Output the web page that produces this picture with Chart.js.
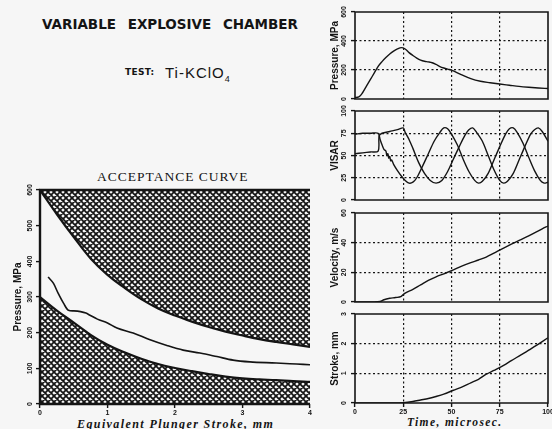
<!DOCTYPE html>
<html>
<head>
<meta charset="utf-8">
<script src="https://cdn.jsdelivr.net/npm/chart.js@4.4.1/dist/chart.umd.min.js"></script>
<style>
  html, body { margin: 0; padding: 0; background: #f6f6f6; }
  #page { position: relative; width: 552px; height: 429px; overflow: hidden; background: #f6f6f6; color: #141414; }
  #page canvas { position: absolute; left: 0; top: 0; }
  .txt { position: absolute; line-height: 1; white-space: pre; }
  #title { left: 42px; top: 15.6px; font: bold 13.5px "DejaVu Sans"; word-spacing: 7px; }
  #testLbl { left: 125px; top: 67.4px; font: bold 9px "DejaVu Sans"; letter-spacing: 0.3px; }
  #testMix { left: 165px; top: 64.3px; font: 15px "Liberation Sans"; letter-spacing: 1px; }
  #testMix sub { font-size: 9px; vertical-align: -4px; }
  #accept { left: 97px; top: 168.7px; font: 13.5px "Liberation Serif"; letter-spacing: 1px; }
  #xTitleL { left: 77px; top: 417px; font: italic bold 12px "Liberation Serif"; letter-spacing: 1.4px; }
  #xTitleR { left: 407px; top: 416.4px; font: italic bold 11.5px "Liberation Serif"; letter-spacing: 1.4px; }
</style>
</head>
<body>
<div id="page">
  <div class="txt" id="title">VARIABLE EXPLOSIVE CHAMBER</div>
  <div class="txt" id="testLbl">TEST:</div>
  <div class="txt" id="testMix">Ti-KClO<sub>4</sub></div>
  <div class="txt" id="accept">ACCEPTANCE CURVE</div>
  <div class="txt" id="xTitleL">Equivalent Plunger Stroke, mm</div>
  <div class="txt" id="xTitleR">Time, microsec.</div>
  <canvas id="accChart" width="552" height="429"></canvas>
  <canvas id="presChart" width="552" height="429"></canvas>
  <canvas id="visarChart" width="552" height="429"></canvas>
  <canvas id="velChart" width="552" height="429"></canvas>
  <canvas id="strokeChart" width="552" height="429"></canvas>
</div>
<script>
// acceptance curve: pressure (MPa) vs equivalent plunger stroke (mm)
const strokeGrid = [0, 0.25, 0.5, 0.75, 1, 1.25, 1.5, 1.75, 2, 2.25, 2.5, 2.75, 3, 3.25, 3.5, 3.75, 4];
const upperLimit = [600, 532, 468, 408, 362, 326, 294, 268, 248, 231, 216, 203, 192, 182, 174, 167, 160];
const lowerLimit = [300, 262, 228, 194, 166, 145, 127, 112, 101, 92, 84, 77, 72, 69, 67, 64, 62];
const testStroke = [0.12, 0.2, 0.27, 0.35, 0.42, 0.5, 0.6, 0.68, 0.74, 0.85, 1.0, 1.14, 1.38, 1.63, 1.88, 2.12, 2.37, 2.62, 2.86, 3.11, 3.5, 3.8, 4.0];
const testPressure = [356, 338, 310, 282, 263, 261, 259, 255, 249, 238, 227, 213, 199, 180, 164, 151, 143, 133, 123, 118, 115, 112, 110];
const accPressureTicks = [0, 100, 200, 300, 400, 500, 600];
const accStrokeTicks = [0, 1, 2, 3, 4];

// time histories, time in microseconds
const timeTicks = [0, 25, 50, 75, 100];

const presTime = [0, 2, 4, 6, 8, 10, 12, 14, 16, 18, 20, 22, 24, 26, 28, 30, 32, 34, 36, 38, 40, 42, 44, 46, 48, 50, 55, 60, 65, 70, 75, 80, 85, 90, 95, 100];
const presMPa = [10, 14, 45, 90, 135, 180, 225, 258, 286, 310, 330, 345, 354, 345, 320, 300, 282, 268, 260, 256, 250, 238, 224, 214, 206, 199, 168, 140, 122, 112, 103, 95, 87, 81, 76, 72];
const presTicks = [0, 200, 400, 600];

const visarTimeA = [0, 4, 8, 12, 13, 14, 15, 16, 16.5, 17, 17.5, 18, 18.5, 19, 20, 22, 24, 26, 28, 30, 32, 35, 38, 41, 44, 46, 48, 50, 53, 56, 59, 62, 64, 66, 69, 72, 75, 78, 80, 82, 84, 87, 90, 93, 96, 98, 100];
const visarA = [74, 75, 75, 75, 68, 62, 57, 55, 50, 52, 47, 49, 44, 45, 40, 33, 27, 22, 19, 20, 25, 38, 52, 66, 76, 81, 80, 74, 62, 46, 32, 22, 19, 21, 30, 45, 60, 74, 80, 81, 76, 64, 48, 33, 22, 19, 20];
const visarTimeB = [0, 4, 8, 12, 12.5, 14, 18, 22, 25, 26, 28, 30, 33, 36, 39, 42, 45, 48, 51, 54, 57, 59, 61, 63, 66, 69, 72, 75, 77, 79, 82, 85, 88, 91, 93, 95, 97, 100];
const visarB = [52, 53, 54, 55, 72, 75, 77, 79, 81, 76, 68, 58, 42, 30, 22, 19, 22, 32, 46, 60, 73, 79, 81, 76, 66, 50, 34, 22, 19, 21, 30, 45, 60, 74, 79, 81, 77, 66];
const visarTicks = [0, 25, 50, 75, 100];

const velTime = [0, 5, 10, 13, 15, 18, 21, 24, 25, 26, 30, 34, 38, 42, 46, 51, 55, 60, 64, 68, 72, 77, 81, 86, 90, 94, 97, 100];
const velocity = [0, 0, 0, 0.3, 1.5, 2.5, 3, 3.8, 5, 6, 8.5, 11.5, 14.5, 17, 19, 21.6, 24, 26.5, 28.3, 30.3, 33, 36.4, 39, 42, 44.5, 47.2, 49.3, 51.2];
const velTicks = [0, 20, 40, 60];

const strokeTime = [0, 10, 20, 25, 30, 34, 38, 42, 46, 51, 55, 60, 64, 68, 72, 77, 81, 86, 90, 94, 97, 100];
const strokeMm = [0, 0, 0, 0.01, 0.05, 0.1, 0.15, 0.22, 0.3, 0.43, 0.53, 0.68, 0.8, 0.97, 1.1, 1.27, 1.43, 1.62, 1.78, 1.94, 2.07, 2.2];
const strokeTicks = [0, 1, 2, 3];

const ink = '#141414';
const paper = '#f6f6f6';
const tickFont = 'bold 7px "Liberation Sans"';
const titleFont = 'bold 10px "Liberation Sans"';

// cross-hatch used for the rejected regions
function makeHatch() {
  const c = document.createElement('canvas');
  c.width = 6; c.height = 6;
  const g = c.getContext('2d');
  g.fillStyle = paper;
  g.fillRect(0, 0, 6, 6);
  g.strokeStyle = ink;
  g.lineWidth = 1.7;
  g.beginPath();
  for (let k = -6; k <= 6; k += 6) {
    g.moveTo(k - 1, -1); g.lineTo(k + 7, 7);
    g.moveTo(k + 7, -1); g.lineTo(k - 1, 7);
  }
  g.stroke();
  return g.createPattern(c, 'repeat');
}

function pts(xs, ys) {
  return xs.map((x, i) => ({ x: x, y: ys[i] }));
}

function line(xs, ys, extra) {
  return Object.assign({
    data: pts(xs, ys),
    borderColor: ink,
    borderWidth: 1.4,
    pointRadius: 0,
    fill: false,
    cubicInterpolationMode: 'monotone'
  }, extra || {});
}

function axis(vals, grid, marks) {
  const lo = vals[0], hi = vals[vals.length - 1];
  return {
    type: 'linear',
    min: lo,
    max: hi,
    afterBuildTicks: s => { s.ticks = vals.map(v => ({ value: v })); },
    afterFit: s => { if (s.isHorizontal()) s.height = 0; else s.width = 0; },
    ticks: { display: false },
    border: { display: false, dash: [2, 2.5] },
    grid: {
      drawOnChartArea: grid,
      drawTicks: marks,
      tickLength: 4,
      tickWidth: 1.4,
      tickColor: ink,
      tickBorderDash: [],
      lineWidth: 1.2,
      color: c => (c.tick && (c.tick.value === lo || c.tick.value === hi)) ? 'rgba(0,0,0,0)' : ink
    }
  };
}

function rotText(ctx, text, x, y) {
  ctx.save();
  ctx.translate(x, y);
  ctx.rotate(-Math.PI / 2);
  ctx.fillText(text, 0, 0);
  ctx.restore();
}

// frame, rotated y labels, x labels and y title
const decor = {
  id: 'decor',
  afterDraw(chart, args, o) {
    const { ctx, chartArea: a } = chart;
    const xs = chart.scales.x, ys = chart.scales.y;
    ctx.save();
    ctx.strokeStyle = ink;
    ctx.fillStyle = ink;
    ctx.lineWidth = o.frame;
    ctx.beginPath();
    if (o.open) {
      ctx.moveTo(a.right, a.top); ctx.lineTo(a.left, a.top);
      ctx.lineTo(a.left, a.bottom); ctx.lineTo(a.right, a.bottom);
    } else {
      ctx.rect(a.left, a.top, a.width, a.height);
    }
    ctx.stroke();
    ctx.font = tickFont;
    ctx.textAlign = 'center';
    ctx.textBaseline = 'middle';
    ys.ticks.forEach(t => rotText(ctx, String(t.value), o.yLabelX, ys.getPixelForValue(t.value)));
    if (o.xLabelY) {
      xs.ticks.forEach(t => ctx.fillText(String(t.value), xs.getPixelForValue(t.value), o.xLabelY));
    }
    ctx.font = titleFont;
    rotText(ctx, o.yTitle, o.yTitleX, (a.top + a.bottom) / 2);
    ctx.restore();
  }
};

function baseOptions(pad, xAxis, yAxis, deco) {
  return {
    responsive: false,
    animation: false,
    devicePixelRatio: 1,
    layout: { padding: pad },
    scales: { x: xAxis, y: yAxis },
    plugins: { legend: { display: false }, tooltip: { enabled: false }, decor: deco }
  };
}

const hatch = makeHatch();

new Chart(document.getElementById('accChart'), {
  type: 'line',
  data: {
    datasets: [
      line(strokeGrid, upperLimit, { fill: 'end', backgroundColor: hatch, borderWidth: 2.2, tension: 0.4, cubicInterpolationMode: 'default' }),
      line(strokeGrid, lowerLimit, { fill: 'start', backgroundColor: hatch, borderWidth: 2.2, tension: 0.4, cubicInterpolationMode: 'default' }),
      line(testStroke, testPressure, { borderWidth: 1.6 })
    ]
  },
  options: baseOptions(
    { left: 40, top: 190, right: 242, bottom: 25 },
    axis(accStrokeTicks, false, true),
    axis(accPressureTicks, false, true),
    { frame: 2.4, open: true, yLabelX: 30, xLabelY: 413, yTitle: 'Pressure, MPa', yTitleX: 18 }
  ),
  plugins: [decor]
});

function panel(id, top, bottom, datasets, yVals, title, xLabels) {
  return new Chart(document.getElementById(id), {
    type: 'line',
    data: { datasets: datasets },
    options: baseOptions(
      { left: 355, top: top, right: 4, bottom: 429 - bottom },
      axis(timeTicks, true, xLabels),
      axis(yVals, true, true),
      { frame: 1.6, open: false, yLabelX: 344, xLabelY: xLabels ? 412 : 0, yTitle: title, yTitleX: 335 }
    ),
    plugins: [decor]
  });
}

panel('presChart', 12, 99, [line(presTime, presMPa)], presTicks, 'Pressure, MPa', false);
panel('visarChart', 111, 200, [line(visarTimeA, visarA, { cubicInterpolationMode: 'default', tension: 0.3 }), line(visarTimeB, visarB, { cubicInterpolationMode: 'default', tension: 0.3 })], visarTicks, 'VISAR', false);
panel('velChart', 213, 302, [line(velTime, velocity)], velTicks, 'Velocity, m/s', false);
panel('strokeChart', 314, 403, [line(strokeTime, strokeMm)], strokeTicks, 'Stroke, mm', true);
</script>
</body>
</html>
